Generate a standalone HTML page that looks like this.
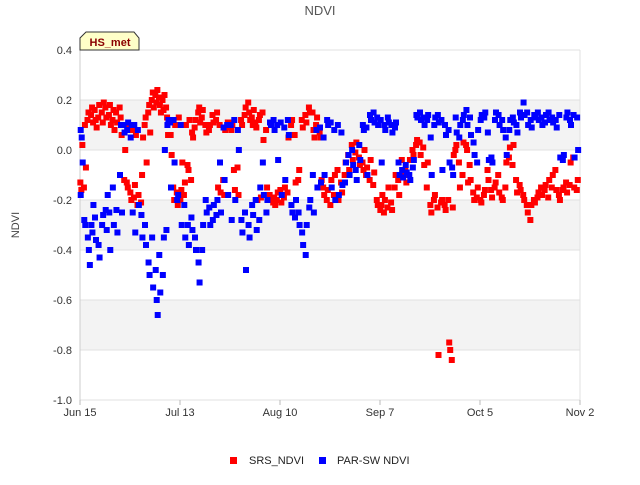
<!DOCTYPE html>
<html><head><meta charset="utf-8"><style>
body{margin:0;background:#fff;font-family:"Liberation Sans",sans-serif}
svg text{font-family:"Liberation Sans",sans-serif}
</style></head><body>
<svg id="chart" width="640" height="480" viewBox="0 0 640 480" xmlns="http://www.w3.org/2000/svg">
<text x="320" y="15" text-anchor="middle" font-size="13" fill="#555">NDVI</text>
<g id="bands"></g>
<g id="grid"></g>
<line x1="80" y1="50" x2="80" y2="400" stroke="#ccc"/>
<line x1="580" y1="50" x2="580" y2="400" stroke="#e0e0e0"/>
<g id="yticks"></g>
<g id="xticks"></g>
<text x="19" y="225" font-size="11" fill="#444" text-anchor="middle" transform="rotate(-90 19 225)">NDVI</text>
<g id="srs"></g>
<g id="par"></g>
<g>
<path d="M80,50 L80,38 L86,32 L134,32 L139,38 L139,50 Z" fill="#ffffc8" stroke="#333" stroke-width="1"/>
<text x="110" y="46" text-anchor="middle" font-size="11" font-weight="bold" fill="#8b0000">HS_met</text>
</g>
<g>
<rect x="230" y="457" width="7" height="7" fill="#f00"/>
<text x="249" y="464" font-size="11" fill="#222">SRS_NDVI</text>
<rect x="319" y="457" width="7" height="7" fill="#00f"/>
<text x="337" y="464" font-size="11" fill="#222">PAR-SW NDVI</text>
</g>
</svg>
<script>
const yTicks=[0.4,0.2,0.0,-0.2,-0.4,-0.6,-0.8,-1.0];
const yTickLabels=["0.4","0.2","0.0","-0.2","-0.4","-0.6","-0.8","-1.0"];
const xTickDays=[0,28,56,84,112,140];
const xTickLabels=["Jun 15","Jul 13","Aug 10","Sep 7","Oct 5","Nov 2"];
const srsVals=[[-0.13,-0.16,0.02],[-0.15,0.1,-0.07],[0.12,0.15],[0.14,0.17,0.11],[0.16,0.12,0.09],[0.13,0.18],[0.15,0.11,0.19],[0.17,0.13],[0.14,0.18,0.1],[0.12,0.16,0.08],[0.15,0.11],[0.17,0.13,0.06],[0.1,-0.12,0.0],[-0.13,-0.15,0.09],[-0.17,-0.2,0.08],[-0.19,-0.14,0.06],[-0.22,-0.18],[-0.21,-0.1,0.05],[0.1,0.13,-0.05],[0.15,0.18,0.07],[0.2,0.23,0.17],[0.22,0.19,0.24],[0.21,0.18,0.15],[0.2,0.16,0.22],[0.17,0.13,0.06],[0.12,0.06,-0.02],[-0.15,-0.2,0.1],[-0.17,-0.22,0.13],[-0.2,-0.16,-0.05],[-0.18,-0.13,0.1],[-0.06,-0.08,0.12],[-0.12,0.07,0.05],[0.09,0.12],[0.15,0.17,0.11],[0.13,0.16],[0.1,0.07],[0.08,0.1],[0.14,0.11],[0.12,0.15,-0.15],[0.1,-0.17],[-0.12,-0.18,0.08],[0.09,0.11],[0.11,0.08,0.1],[-0.08,-0.16],[-0.07,-0.18],[0.12,0.1],[0.14,0.17],[0.19,0.15,0.12],[0.13,0.1,0.16],[0.11,0.09,-0.2],[0.12,0.14,-0.19],[0.15,0.04],[0.08,-0.15],[-0.18,-0.2],[-0.21,-0.19,-0.22],[-0.2,-0.17],[-0.16,-0.21],[-0.19,-0.15],[-0.17,0.05],[0.1,0.12],[0.06,-0.13],[-0.12,-0.08],[0.12,0.09],[0.14,0.11],[0.17,0.15],[0.15,0.08,0.05],[0.1,0.13],[0.07,0.05,-0.12],[-0.15,-0.18],[-0.2,-0.16],[-0.22,-0.12],[-0.18,-0.1],[-0.08,-0.2],[-0.13,-0.17],[-0.1,-0.05],[-0.02,-0.08],[0.02,-0.04],[-0.01,0.03],[-0.03,-0.06],[-0.05,-0.08,0.0],[-0.1,-0.07],[-0.12,-0.04],[-0.14,-0.09],[-0.2,-0.22],[-0.24,-0.22,-0.18],[-0.25,-0.2],[-0.23,-0.15],[-0.21,-0.24],[-0.15,-0.1],[-0.12,-0.18],[-0.04,-0.09],[-0.08,-0.13],[-0.1,-0.04],[0.0,-0.02],[0.02,0.04],[0.03,-0.02],[0.01,-0.06],[-0.15,-0.05],[-0.22,-0.25],[-0.2,-0.18],[-0.23,-0.82],[-0.21,-0.2],[-0.22,-0.24],[-0.2,-0.77,-0.8],[-0.84,-0.23,-0.02],[0.0,0.02],[-0.05,-0.15],[-0.1,0.03],[0.02,0.0,-0.13],[-0.06,-0.12],[-0.17,-0.2],[-0.19,-0.15],[-0.2,-0.21],[-0.18,-0.16],[-0.08,-0.12],[-0.16,-0.19],[-0.15,-0.13],[-0.1,-0.17],[-0.19,-0.2],[-0.15,-0.05],[-0.03,0.01],[-0.06,0.02],[-0.12,-0.17],[-0.14,-0.16],[-0.18,-0.2],[-0.22,-0.25],[-0.28,-0.22],[-0.2,-0.21],[-0.19,-0.17],[-0.15,-0.18],[-0.16,-0.14],[-0.19,-0.12],[-0.15,-0.1],[-0.08,-0.16],[-0.18,-0.2],[-0.16,-0.15],[-0.13,-0.17],[-0.14,-0.05],[-0.03,-0.15],[-0.16,-0.12]];
const parVals=[[0.08,0.05,-0.05,-0.18],[-0.28,-0.3],[-0.35,-0.4,-0.46],[-0.3,-0.33,-0.22],[-0.27,-0.36],[-0.38,-0.43],[-0.3,-0.26],[-0.24,-0.32,-0.18],[-0.25,-0.4],[-0.15,-0.3],[-0.24,-0.33],[-0.1,0.1,-0.25],[0.1,0.07],[0.08,0.11],[0.05,0.1,-0.25],[0.1,-0.33],[0.08,-0.22],[-0.26,-0.35],[-0.3,-0.38],[-0.45,-0.5],[-0.35,-0.55],[-0.48,-0.6,-0.66],[-0.42,-0.57],[-0.5,-0.35,0.0],[-0.32,0.1,0.12],[0.11,-0.15],[0.12,-0.05],[-0.2,-0.18],[0.1,-0.3],[-0.22,-0.35],[-0.3,-0.38],[-0.27,-0.32],[-0.35,-0.4],[-0.45,-0.53],[-0.4,-0.3],[-0.2,-0.25],[-0.23,-0.3],[-0.28,-0.22],[-0.26,-0.2],[-0.05,-0.25],[0.09,-0.12],[0.1,-0.18],[0.1,-0.28],[0.12,-0.2],[0.08,0.0],[-0.28,-0.33],[-0.25,-0.48],[-0.3,-0.35],[-0.22,-0.26],[-0.2,-0.32],[-0.28,-0.15],[-0.05,-0.18],[-0.25,-0.2],[0.11,0.1],[0.12,0.08],[0.1,-0.04],[0.11,-0.18],[0.09,-0.12],[0.12,0.06],[-0.22,-0.25],[-0.27,-0.2],[-0.25,-0.3],[-0.33,-0.38],[-0.42,-0.3],[-0.23,-0.2],[-0.1,-0.25],[0.08,-0.15],[0.09,-0.13],[0.05,-0.1],[0.12,0.1],[0.11,-0.15],[0.08,-0.2],[0.1,-0.18],[0.07,-0.14],[-0.13,-0.05],[-0.02,-0.1],[0.0,-0.06],[-0.08,-0.12],[0.02,-0.04],[0.1,0.08],[0.09,-0.1],[0.14,0.12],[0.15,0.11],[0.13,0.1],[0.12,-0.05],[0.1,0.08],[0.13,0.11],[0.1,0.07],[0.09,0.11],[-0.05,-0.1],[-0.08,-0.11],[-0.06,-0.09],[-0.1,-0.12],[-0.07,-0.04],[0.14,0.13],[0.15,0.12],[0.13,0.1],[0.12,0.14],[0.05,-0.1],[0.1,0.13],[0.14,0.11],[0.12,-0.08],[0.1,0.06],[0.08,-0.05],[-0.07,-0.1],[0.13,0.07],[0.05,0.1],[0.12,0.14],[0.16,0.1],[0.13,0.06],[0.03,-0.02],[-0.05,0.08],[0.12,0.14],[0.13,0.15],[0.07,-0.04],[-0.03,-0.05],[0.12,0.15],[0.14,0.1],[0.12,0.08],[0.05,-0.02],[0.08,0.12],[0.13,0.11],[0.1,0.07],[0.15,0.13],[0.19,0.14],[0.15,0.1],[0.12,0.09],[0.14,0.13],[0.15,0.12],[0.13,0.1],[0.11,0.14],[0.15,0.12],[0.13,0.11],[0.12,0.09],[0.14,-0.03],[-0.04,-0.02],[0.13,0.15],[0.12,0.1],[0.14,-0.03],[0.13,0.0]];

const NS="http://www.w3.org/2000/svg";
const X0=80,X1=580,Y0=50,Y1=400,DMAX=140,VMIN=-1,VMAX=0.4;
function xs(d){return X0+(d/DMAX)*(X1-X0);}
function ys(v){return Y0+(VMAX-v)/(VMAX-VMIN)*(Y1-Y0);}
function mk(tag,attrs,parent){const e=document.createElementNS(NS,tag);for(const k in attrs)e.setAttribute(k,attrs[k]);parent.appendChild(e);return e;}
const bands=document.getElementById('bands'),grid=document.getElementById('grid');
for(let i=0;i<yTicks.length-1;i++){
  if(i%2===1){const r=mk('rect',{x:X0,y:ys(yTicks[i]),width:X1-X0,height:ys(yTicks[i+1])-ys(yTicks[i]),fill:'#f3f3f3'},bands);
  
  }
}
const yt=document.getElementById('yticks');
yTicks.forEach((v,i)=>{
  const l=mk('line',{x1:X0,x2:X1,y1:ys(v),y2:ys(v),stroke:'#e0e0e0'},grid);
  
  
  const t=mk('text',{x:72,y:ys(v)+4,'text-anchor':'end','font-size':11,fill:'#333'},yt);
  t.textContent=yTickLabels[i];
  
  
});
const xt=document.getElementById('xticks');
xTickDays.forEach((d,i)=>{
  const l=mk('line',{x1:xs(d),x2:xs(d),y1:Y1,y2:Y1+5,stroke:'#bbb'},xt);
  
  
  const t=mk('text',{x:xs(d),y:416,'text-anchor':'middle','font-size':11,fill:'#333'},xt);
  t.textContent=xTickLabels[i];
  
  
});
function draw(vals,g,color,name,off){
  vals.forEach((arr,d)=>{arr.forEach((v,j)=>{
    const dd=d+off+(j%3)*0.28;
    const r=mk('rect',{x:xs(dd)-3,y:ys(v)-3,width:6,height:6,fill:color},g);
    
    
  });});
}
draw(srsVals,document.getElementById('srs'),'#f00','srs-point',0.1);
draw(parVals,document.getElementById('par'),'#00f','par-sw-point',0.2);
</script>
</body></html>
